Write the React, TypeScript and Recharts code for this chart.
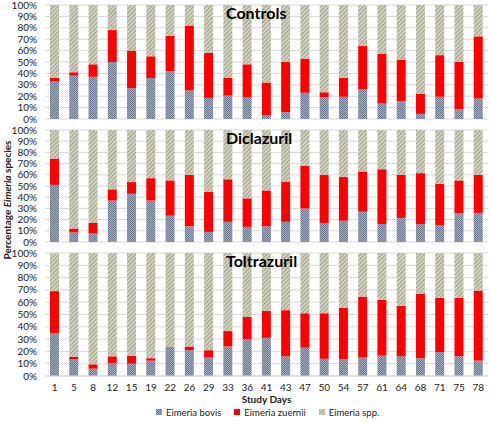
import React from 'react';
import { BarChart, Bar, XAxis, YAxis, CartesianGrid } from 'recharts';

const days = ['1', '5', '8', '12', '15', '19', '22', '26', '29', '33', '36', '41', '43', '47', '50', '54', '57', '61', '64', '68', '71', '75', '78'];
const yTicks = [0, 10, 20, 30, 40, 50, 60, 70, 80, 90, 100];

const controlsBovis = [33, 38, 37, 50, 27, 36, 42, 25, 18.5, 20.5, 19, 3, 6, 23, 19, 19.5, 26, 13.5, 15.5, 4.5, 19.5, 8.5, 18];
const controlsZuernii = [3, 3, 11, 28, 33, 19, 31, 57, 39.5, 15.5, 29, 29, 44, 30, 4.5, 16.5, 38, 43.5, 36.5, 17.5, 36.5, 41.5, 54.5];
const controlsSpp = [64, 59, 52, 22, 40, 45, 27, 18, 42, 64, 52, 68, 50, 47, 76.5, 64, 36, 43, 48, 78, 44, 50, 27.5];

const diclazurilBovis = [51, 8.5, 7.5, 37, 43, 37, 23.5, 14, 9, 18, 13.5, 14, 18, 30, 17, 19, 27, 16, 21.5, 16, 15, 25.5, 26];
const diclazurilZuernii = [23.5, 3.5, 9.5, 10, 10.5, 20, 31.5, 46, 36, 38, 25.5, 32, 36, 38, 43, 39, 36, 49, 38.5, 45.5, 37, 29.5, 34];
const diclazurilSpp = [25.5, 88, 83, 53, 46.5, 43, 45, 40, 55, 44, 61, 54, 46, 32, 40, 42, 37, 35, 40, 38.5, 48, 45, 40];

const toltrazurilBovis = [35, 13.5, 6, 10.5, 10, 12.5, 24, 21, 15, 24, 30, 31, 16, 23, 14, 13.5, 15, 16.5, 16, 14.5, 19.5, 16, 12.5];
const toltrazurilZuernii = [34, 2, 3.5, 5.5, 6.5, 2, 0, 3, 6, 12.5, 18, 22, 37.5, 28, 37, 42, 49.5, 45.5, 41, 52.5, 44, 47.5, 57];
const toltrazurilSpp = [31, 84.5, 90.5, 84, 83.5, 85.5, 76, 76, 79, 63.5, 52, 47, 46.5, 49, 49, 44.5, 35.5, 38, 43, 33, 36.5, 36.5, 30.5];

const font = 'Lato, "Open Sans", sans-serif';
const textColor = '#222';
const gridColor = '#d9d9d9';

const buildRows = (bovis: number[], zuernii: number[], spp: number[]) =>
  days.map((day, i) => ({ day, bovis: bovis[i], zuernii: zuernii[i], spp: spp[i] }));

interface PanelProps {
  title: string;
  bovis: number[];
  zuernii: number[];
  spp: number[];
  plotTop: number;
  plotHeight: number;
  showDays?: boolean;
}

// each panel is its own chart; plotTop is where the 100% line sits on the page
const Panel = ({ title, bovis, zuernii, spp, plotTop, plotHeight, showDays }: PanelProps) => {
  const axisHeight = showDays ? 22 : 0;
  const padTop = Math.min(plotTop, 8);
  const margin = { top: padTop, right: 1, left: 0, bottom: showDays ? 0 : 8 };
  return (
    <div style={{ position: 'absolute', left: 0, top: plotTop - padTop }}>
      <BarChart
        width={489}
        height={plotHeight + margin.top + margin.bottom + axisHeight}
        data={buildRows(bovis, zuernii, spp)}
        margin={margin}
        barSize={9}
      >
        <CartesianGrid vertical={false} stroke={gridColor} />
        <XAxis
          dataKey="day"
          hide={!showDays}
          height={axisHeight}
          interval={0}
          tickLine={false}
          axisLine={{ stroke: gridColor }}
          tick={{ fill: textColor, fontSize: 10, fontFamily: font }}
        />
        <YAxis
          domain={[0, 100]}
          ticks={yTicks}
          interval={0}
          width={45}
          axisLine={false}
          tickLine={false}
          tick={{ fill: textColor, fontSize: 10, fontFamily: font }}
          tickFormatter={(v) => `${v}%`}
        />
        <Bar dataKey="bovis" name="Eimeria bovis" stackId="a" fill="url(#patBovis)" isAnimationActive={false} />
        <Bar dataKey="zuernii" name="Eimeria zuernii" stackId="a" fill="#ff0000" isAnimationActive={false} />
        <Bar dataKey="spp" name="Eimeria spp." stackId="a" fill="url(#patSpp)" isAnimationActive={false} />
      </BarChart>
      <div
        style={{
          position: 'absolute',
          left: 226,
          top: padTop - 2,
          fontFamily: font,
          fontWeight: 700,
          fontSize: 16,
          color: '#000',
          lineHeight: '20px',
        }}
      >
        {title}
      </div>
    </div>
  );
};

const LegendItem = ({ fill, label }: { fill: string; label: string }) => (
  <span style={{ display: 'inline-flex', alignItems: 'center', marginRight: 13 }}>
    <svg width={6} height={6} style={{ marginRight: 4 }}>
      <rect width={6} height={6} fill={fill} />
    </svg>
    {label}
  </span>
);

export default function App() {
  return (
    <div style={{ position: 'absolute', left: 0, top: 0, width: 489, height: 422, background: '#fff', fontFamily: font }}>
      <svg width={0} height={0} style={{ position: 'absolute' }}>
        <defs>
          <pattern id="patBovis" width={2} height={2} patternUnits="userSpaceOnUse">
            <rect width={2} height={2} fill="#a4abbd" />
            <rect width={1} height={1} fill="#6f7891" />
            <rect x={1} y={1} width={1} height={1} fill="#6f7891" />
          </pattern>
          <pattern id="patSpp" width={3} height={3} patternUnits="userSpaceOnUse" patternTransform="rotate(45)">
            <rect width={3} height={3} fill="#d6d6c6" />
            <rect width={1.2} height={3} fill="#a2a28a" />
          </pattern>
        </defs>
      </svg>

      <Panel title="Controls" bovis={controlsBovis} zuernii={controlsZuernii} spp={controlsSpp} plotTop={5} plotHeight={114} />
      <Panel title="Diclazuril" bovis={diclazurilBovis} zuernii={diclazurilZuernii} spp={diclazurilSpp} plotTop={130} plotHeight={112} />
      <Panel title="Toltrazuril" bovis={toltrazurilBovis} zuernii={toltrazurilZuernii} spp={toltrazurilSpp} plotTop={253} plotHeight={123} showDays />

      <svg width={16} height={422} style={{ position: 'absolute', left: 0, top: 0 }}>
        <text
          transform="translate(11, 200) rotate(-90)"
          textAnchor="middle"
          fontSize={10}
          fontWeight={700}
          fill={textColor}
          fontFamily={font}
        >
          Percentage <tspan fontStyle="italic">Eimeria</tspan> species
        </text>
      </svg>

      <div
        style={{
          position: 'absolute',
          left: 45,
          width: 443,
          top: 393,
          textAlign: 'center',
          fontSize: 10,
          fontWeight: 700,
          color: textColor,
        }}
      >
        Study Days
      </div>

      <div
        style={{
          position: 'absolute',
          left: 156,
          top: 406,
          whiteSpace: 'nowrap',
          fontSize: 9.5,
          color: textColor,
        }}
      >
        <LegendItem fill="url(#patBovis)" label="Eimeria bovis" />
        <LegendItem fill="#ff0000" label="Eimeria zuernii" />
        <LegendItem fill="url(#patSpp)" label="Eimeria spp." />
      </div>
    </div>
  );
}
